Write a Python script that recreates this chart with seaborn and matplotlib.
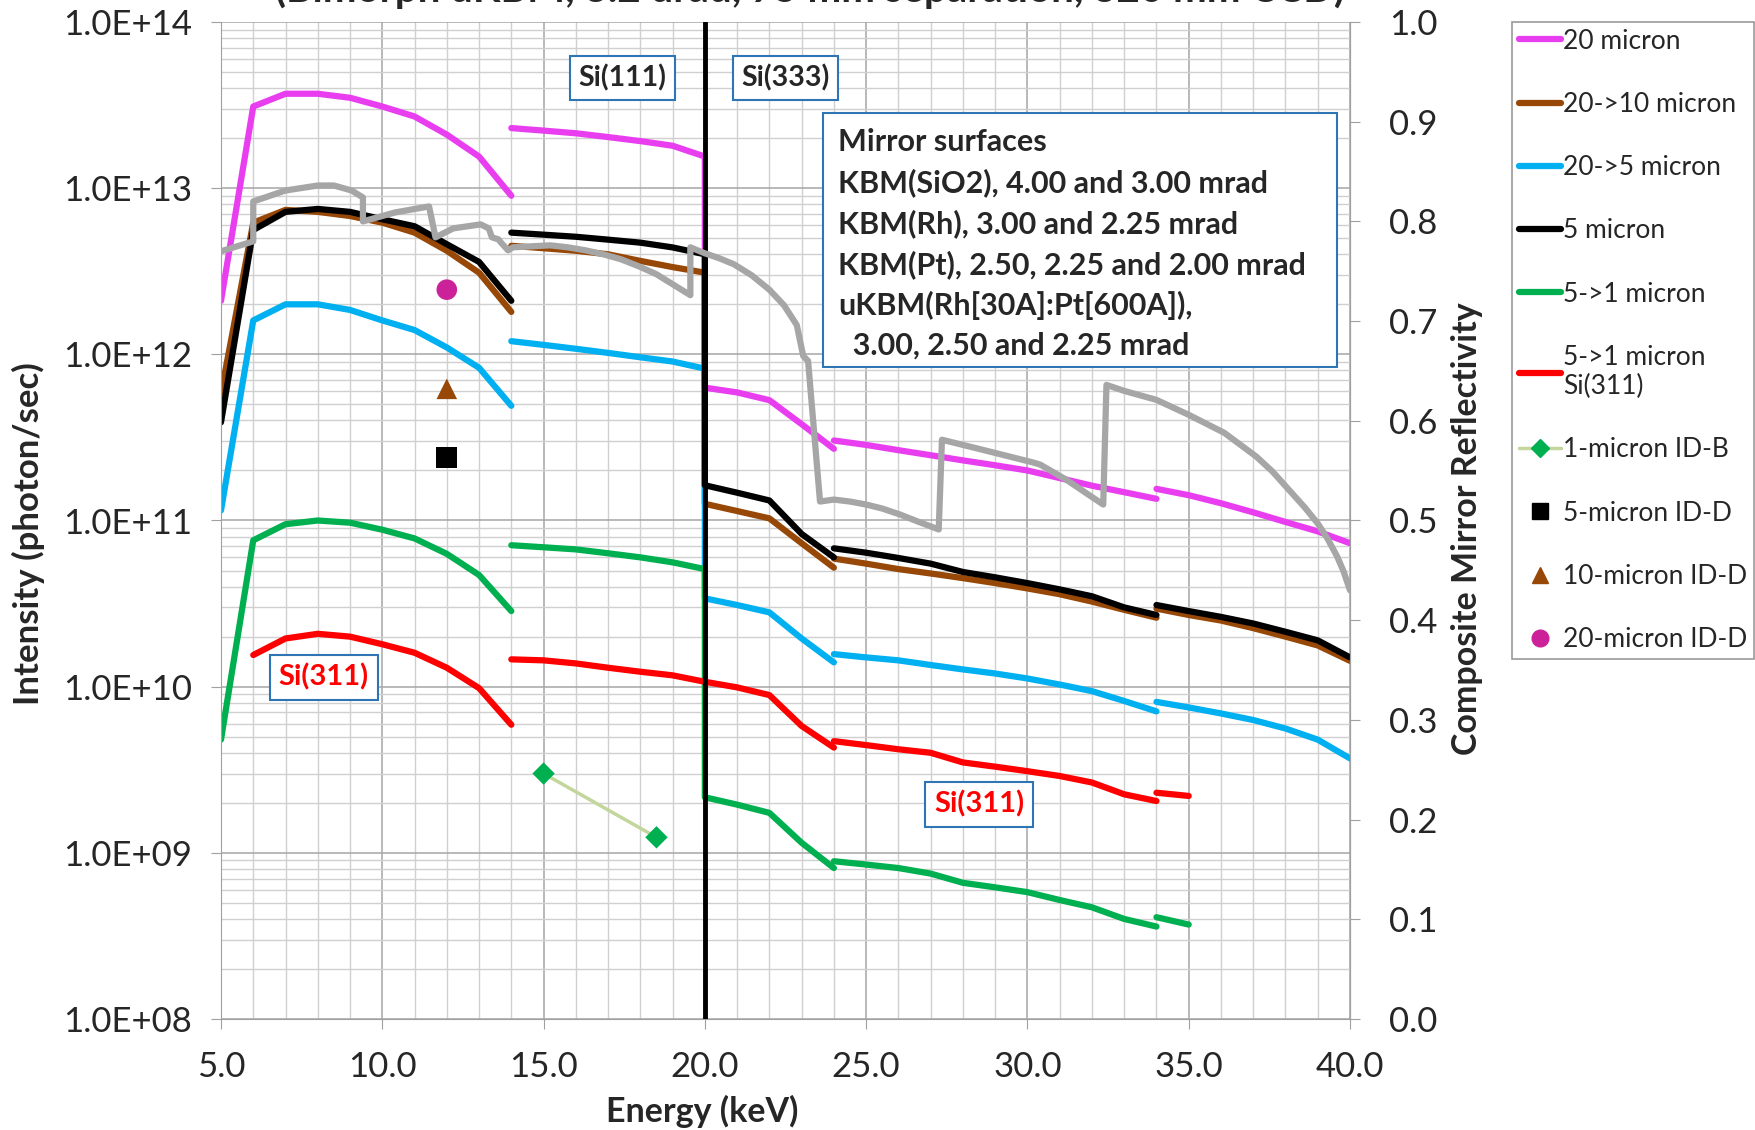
import numpy as np
import pandas as pd
import seaborn as sns
import matplotlib.pyplot as plt
from matplotlib.ticker import MultipleLocator, LogLocator, FuncFormatter, NullFormatter, FormatStrFormatter
from matplotlib.lines import Line2D
from matplotlib.patches import Rectangle

nan = np.nan

# energy grid (keV) shared by most series; nan splits the curve into pieces
energy = [5, 6, 7, 8, 9, 10, 11, 12, 13, 14, nan,
          14, 15, 16, 17, 18, 19, 20, 20, 21, 22, 23, 24, nan,
          24, 25, 26, 27, 28, 29, 30, 31, 32, 33, 34, nan,
          34, 35, 36, 37, 38, 39, 40]

flux_20um = [2.1e12, 3.1e13, 3.7e13, 3.7e13, 3.5e13, 3.1e13, 2.7e13, 2.1e13, 1.55e13, 9.0e12, nan,
             2.3e13, 2.22e13, 2.14e13, 2.03e13, 1.92e13, 1.8e13, 1.55e13, 6.3e11, 5.9e11, 5.3e11, 3.8e11, 2.7e11, nan,
             3.03e11, 2.85e11, 2.65e11, 2.47e11, 2.3e11, 2.15e11, 2.0e11, 1.8e11, 1.62e11, 1.48e11, 1.35e11, nan,
             1.55e11, 1.42e11, 1.27e11, 1.12e11, 9.8e10, 8.6e10, 7.3e10]

flux_20_10 = [5.8e11, 6.2e12, 7.4e12, 7.2e12, 6.8e12, 6.2e12, 5.4e12, 4.2e12, 3.1e12, 1.8e12, nan,
              4.5e12, 4.35e12, 4.2e12, 4.0e12, 3.65e12, 3.35e12, 3.1e12, 1.26e11, 1.14e11, 1.03e11, 7.3e10, 5.2e10, nan,
              5.9e10, 5.5e10, 5.1e10, 4.8e10, 4.5e10, 4.2e10, 3.9e10, 3.6e10, 3.25e10, 2.9e10, 2.6e10, nan,
              2.95e10, 2.7e10, 2.5e10, 2.25e10, 2.0e10, 1.77e10, 1.43e10]

flux_20_5 = [1.15e11, 1.6e12, 2.0e12, 2.0e12, 1.85e12, 1.6e12, 1.4e12, 1.1e12, 8.3e11, 4.9e11, nan,
             1.2e12, 1.14e12, 1.08e12, 1.02e12, 9.6e11, 9.05e11, 8.2e11, 3.4e10, 3.1e10, 2.8e10, 1.95e10, 1.4e10, nan,
             1.57e10, 1.5e10, 1.44e10, 1.35e10, 1.27e10, 1.2e10, 1.12e10, 1.03e10, 9.4e9, 8.2e9, 7.1e9, nan,
             8.1e9, 7.5e9, 6.9e9, 6.3e9, 5.6e9, 4.8e9, 3.7e9]

flux_5um = [3.9e11, 5.6e12, 7.2e12, 7.5e12, 7.2e12, 6.5e12, 5.9e12, 4.6e12, 3.6e12, 2.1e12, nan,
            5.4e12, 5.25e12, 5.1e12, 4.9e12, 4.7e12, 4.4e12, 4.0e12, 1.63e11, 1.47e11, 1.32e11, 8.3e10, 6.0e10, nan,
            6.8e10, 6.4e10, 5.95e10, 5.5e10, 4.9e10, 4.55e10, 4.2e10, 3.85e10, 3.5e10, 3.0e10, 2.7e10, nan,
            3.1e10, 2.85e10, 2.63e10, 2.4e10, 2.14e10, 1.9e10, 1.5e10]

energy_5_1 = [5, 6, 7, 8, 9, 10, 11, 12, 13, 14, nan,
              14, 15, 16, 17, 18, 19, 20, 20, 21, 22, 23, 24, nan,
              24, 25, 26, 27, 28, 29, 30, 31, 32, 33, 34, nan,
              34, 35]
flux_5_1 = [4.8e9, 7.6e10, 9.5e10, 1.0e11, 9.7e10, 8.8e10, 7.8e10, 6.3e10, 4.7e10, 2.85e10, nan,
            7.1e10, 6.9e10, 6.7e10, 6.35e10, 6.0e10, 5.6e10, 5.1e10, 2.16e9, 1.95e9, 1.74e9, 1.15e9, 8.1e8, nan,
            8.9e8, 8.5e8, 8.1e8, 7.5e8, 6.6e8, 6.2e8, 5.8e8, 5.2e8, 4.7e8, 4.0e8, 3.6e8, nan,
            4.1e8, 3.7e8]

energy_311 = [6, 7, 8, 9, 10, 11, 12, 13, 14, nan,
              14, 15, 16, 17, 18, 19, 20, 21, 22, 23, 24, nan,
              24, 25, 26, 27, 28, 29, 30, 31, 32, 33, 34, nan,
              34, 35]
flux_311 = [1.55e10, 1.95e10, 2.08e10, 2.0e10, 1.8e10, 1.6e10, 1.3e10, 9.8e9, 5.9e9, nan,
            1.46e10, 1.44e10, 1.38e10, 1.3e10, 1.23e10, 1.17e10, 1.07e10, 9.9e9, 8.9e9, 5.8e9, 4.3e9, nan,
            4.7e9, 4.45e9, 4.2e9, 4.0e9, 3.5e9, 3.3e9, 3.1e9, 2.9e9, 2.65e9, 2.25e9, 2.05e9, nan,
            2.3e9, 2.2e9]

# composite mirror reflectivity (right axis)
refl_E = [5.0, 6.0, 6.0, 7.0, 8.0, 8.5, 9.05, 9.4, 9.4, 10.4, 11.45, 11.65, 12.2, 13.05, 13.3, 13.4,
          13.6, 13.7, 13.9, 14.05, 15.2, 15.75, 16.3, 16.85, 17.4, 17.95, 18.5, 19.0, 19.55, 19.55,
          20.0, 20.45, 20.9, 21.45, 22.0, 22.45, 22.85, 23.05, 23.2, 23.57, 24.0, 24.5, 25.0, 25.5,
          26.05, 26.6, 27.25, 27.35, 28.6, 30.2, 30.4, 31.2, 32.35, 32.45, 33.0, 34.0, 35.0, 36.1,
          37.1, 37.6, 38.1, 38.6, 39.0, 39.3, 39.6, 39.8, 40.0]
refl = [0.770, 0.780, 0.820, 0.831, 0.836, 0.836, 0.831, 0.824, 0.800, 0.809, 0.815, 0.784, 0.793,
        0.797, 0.793, 0.784, 0.782, 0.778, 0.771, 0.774, 0.776, 0.774, 0.771, 0.767, 0.762, 0.755,
        0.747, 0.737, 0.726, 0.774, 0.768, 0.763, 0.757, 0.746, 0.7315, 0.716, 0.696, 0.665, 0.660,
        0.519, 0.521, 0.519, 0.516, 0.512, 0.506, 0.499, 0.491, 0.581, 0.571, 0.558, 0.556, 0.541,
        0.516, 0.636, 0.630, 0.621, 0.606, 0.588, 0.564, 0.549, 0.531, 0.513, 0.497, 0.482, 0.464,
        0.449, 0.430]

# measured points
idb_E = [15.0, 18.5]
idb_flux = [3.0e9, 1.24e9]
idd_E = [12.0, 12.0, 12.0]
idd_flux = [2.4e11, 6.2e11, 2.45e12]
idd_names = ["5-micron ID-D", "10-micron ID-D", "20-micron ID-D"]

series_names = ["20 micron", "20->10 micron", "20->5 micron", "5 micron", "5->1 micron", "5->1 micron\nSi(311)"]
series_colors = ["#e83ef0", "#974706", "#00b0f0", "#000000", "#00b050", "#ff0000"]


def to_long(name, E, F):
    rows = []
    seg = 0
    for e, f in zip(E, F):
        if np.isnan(e):
            seg += 1
            continue
        rows.append((name, seg, e, f))
    return rows


rows = []
for name, E, F in zip(series_names,
                      [energy, energy, energy, energy, energy_5_1, energy_311],
                      [flux_20um, flux_20_10, flux_20_5, flux_5um, flux_5_1, flux_311]):
    rows += to_long(name, E, F)
df = pd.DataFrame(rows, columns=["series", "seg", "E", "flux"])

sns.set_style("white")
plt.rcParams['font.family'] = ['Lato', 'DejaVu Sans']

fig = plt.figure(figsize=(17.56, 11.3), dpi=100)
L, R, T, B = 221, 1350, 22, 1019
W, H = 1756, 1130
ax = fig.add_axes([L / W, 1 - B / H, (R - L) / W, (B - T) / H])

ax.set_yscale('log')
ax.set_ylim(1e8, 1e14)
ax.set_xlim(5, 40)

sns.lineplot(data=df, x="E", y="flux", hue="series", units="seg", estimator=None, sort=False,
             hue_order=series_names, palette=dict(zip(series_names, series_colors)),
             linewidth=4.5, legend=False, ax=ax)

ax.axvline(20, color="black", lw=3.5, zorder=5)

# ID-B measurement
sns.lineplot(x=idb_E, y=idb_flux, color="#c3d69b", lw=2.5, estimator=None, ax=ax, zorder=6)
sns.scatterplot(x=idb_E, y=idb_flux, marker="D", s=130, color="#00b050", edgecolor="none", ax=ax, zorder=7)
# ID-D measurements
sns.scatterplot(x=idd_E, y=idd_flux, hue=idd_names, style=idd_names,
                markers={"5-micron ID-D": "s", "10-micron ID-D": "^", "20-micron ID-D": "o"},
                palette={"5-micron ID-D": "black", "10-micron ID-D": "#974706", "20-micron ID-D": "#cc2299"},
                s=220, edgecolor="none", legend=False, ax=ax, zorder=7)

# grid
ax.xaxis.set_major_locator(MultipleLocator(5))
ax.xaxis.set_minor_locator(MultipleLocator(1))
ax.yaxis.set_major_locator(LogLocator(base=10))
ax.yaxis.set_minor_locator(LogLocator(base=10, subs=np.arange(2, 10)))
ax.yaxis.set_minor_formatter(NullFormatter())
ax.grid(which="major", color="#a6a6a6", lw=1.1)
ax.grid(which="minor", color="#d0d0d0", lw=1.0)
ax.set_axisbelow(True)

ax.xaxis.set_major_formatter(FormatStrFormatter("%.1f"))
ax.yaxis.set_major_formatter(FuncFormatter(lambda v, p: "%.1E" % v))
ax.tick_params(axis="both", which="major", direction="out", length=7, color="#a0a0a0", labelsize=25)
ax.tick_params(axis="y", which="major", pad=14, left=True)
ax.tick_params(axis="x", which="major", pad=16, bottom=True)
ax.tick_params(which="minor", length=0)
ax.set_xlabel("")
ax.set_ylabel("")
for s in ax.spines.values():
    s.set_color("#a0a0a0")
ax.spines["top"].set_visible(False)

# reflectivity on secondary axis
ax2 = ax.twinx()
sns.lineplot(x=refl_E, y=refl, sort=False, estimator=None, color="#a6a6a6", lw=4.5, ax=ax2)
ax2.set_ylim(0, 1)
ax2.yaxis.set_major_locator(MultipleLocator(0.1))
ax2.yaxis.set_major_formatter(FormatStrFormatter("%.1f"))
ax2.tick_params(axis="y", direction="out", length=7, color="#a0a0a0", labelsize=25, pad=21, right=True)
ax2.set_ylabel("")
ax2.grid(False)
for s in ax2.spines.values():
    s.set_visible(False)
ax2.spines["right"].set_visible(True)
ax2.spines["right"].set_color("#a0a0a0")

# axis titles
fig.text(28 / W, 1 - 534 / H, "Intensity (photon/sec)", rotation=90, ha="center", va="center",
         fontsize=25, weight="bold")
fig.text(1467 / W, 1 - 529 / H, "Composite Mirror Reflectivity", rotation=90, ha="center", va="center",
         fontsize=24.5, weight="bold")
fig.text(702 / W, 1 - 1111 / H, "Energy (keV)", ha="center", va="center", fontsize=24.5, weight="bold")
fig.text(810 / W, 1 - 2 / H, "(Bimorph uKBM, 3.2 urad, 75 mm separation, 320 mm CCD)",
         ha="center", va="baseline", fontsize=29, weight="bold")

# annotations
box_kw = dict(boxstyle="square,pad=0.3", fc="white", ec="#2e75b6", lw=1.5)
ax.text(17.45, 4.6e13, "Si(111)", ha="center", va="center", fontsize=20.5, weight="bold", bbox=box_kw, zorder=8)
ax.text(22.51, 4.6e13, "Si(333)", ha="center", va="center", fontsize=20.5, weight="bold", bbox=box_kw, zorder=8)
ax.text(8.19, 1.14e10, "Si(311)", ha="center", va="center", fontsize=21, weight="bold", color="red",
        bbox=box_kw, zorder=8)
ax.text(28.5, 1.96e9, "Si(311)", ha="center", va="center", fontsize=21, weight="bold", color="red",
        bbox=box_kw, zorder=8)

rect = Rectangle((823 / W, 1 - 367 / H), 514 / W, 254 / H, transform=fig.transFigure,
                 fc="white", ec="#2e75b6", lw=1.5, zorder=10)
fig.add_artist(rect)
fig.text(838 / W, 1 - 128 / H,
         "Mirror surfaces\nKBM(SiO2), 4.00 and 3.00 mrad\nKBM(Rh), 3.00 and 2.25 mrad\n"
         "KBM(Pt), 2.50, 2.25 and 2.00 mrad\nuKBM(Rh[30A]:Pt[600A]),\n  3.00, 2.50 and 2.25 mrad",
         ha="left", va="top", fontsize=22, weight="bold", linespacing=1.5, zorder=11)

# legend
handles = [Line2D([], [], color=c, lw=4.5) for c in series_colors]
handles += [Line2D([], [], color="#c3d69b", lw=2.5, marker="D", markersize=9,
                   markerfacecolor="#00b050", markeredgecolor="#00b050"),
            Line2D([], [], ls="none", marker="s", color="black", markersize=11),
            Line2D([], [], ls="none", marker="^", color="#974706", markersize=12),
            Line2D([], [], ls="none", marker="o", color="#cc2299", markersize=12)]
labels = series_names + ["1-micron ID-B"] + idd_names
leg = fig.legend(handles, labels, loc="upper left", bbox_to_anchor=(1512 / W, 1 - 22 / H),
                 frameon=True, fancybox=False, edgecolor="#808080", fontsize=19,
                 labelspacing=1.45, handlelength=1.6, handletextpad=0.1, borderaxespad=0, borderpad=0.25)
leg.get_frame().set_linewidth(1.2)
for t in leg.get_texts():
    t.set_linespacing(1.2)

fig.savefig("out.png", dpi=100)
